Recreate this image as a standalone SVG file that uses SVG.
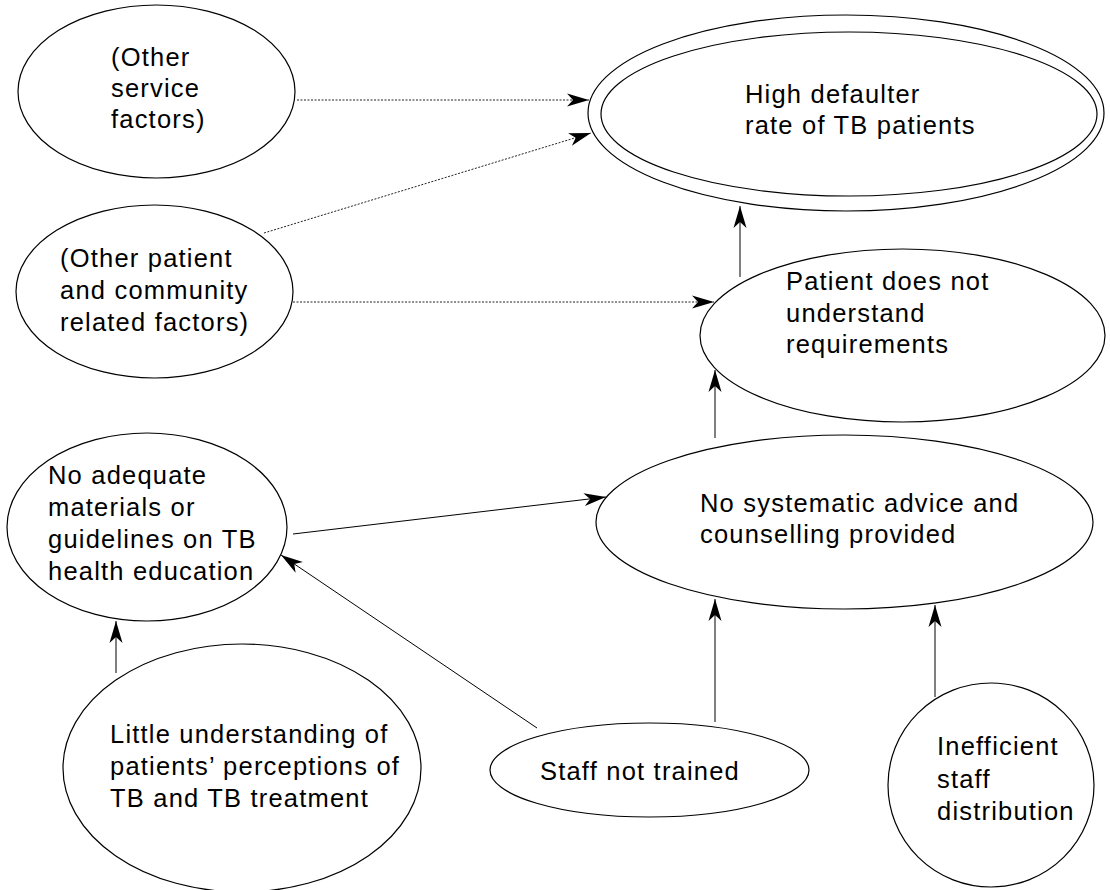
<svg xmlns="http://www.w3.org/2000/svg" width="1110" height="890" viewBox="0 0 1110 890">
<style>
.n{fill:#fff;stroke:#000;stroke-width:1.2}
.t{font-family:"Liberation Sans",Arial,sans-serif;font-size:25.5px;letter-spacing:1.2px;fill:#000}
.c{stroke:#000;stroke-width:1;fill:none}
.d{stroke:#222;stroke-width:1;fill:none;stroke-dasharray:2 1.5}
</style>
<defs>
<marker id="ah" viewBox="-23 -8 24 16" refX="0" refY="0" markerWidth="24" markerHeight="16" markerUnits="userSpaceOnUse" orient="auto">
<path d="M0,0 L-22,-6.5 L-16,0 L-22,6.5 Z" fill="#000"/>
</marker>
</defs>
<rect width="1110" height="890" fill="#fff"/>
<g id="connectors">
<line class="d" x1="297" y1="100" x2="589" y2="100" marker-end="url(#ah)"/>
<line class="d" x1="264" y1="233" x2="591" y2="133" marker-end="url(#ah)"/>
<line class="d" x1="293" y1="302" x2="714" y2="302" marker-end="url(#ah)"/>
<line class="c" x1="740" y1="277" x2="740" y2="206" marker-end="url(#ah)"/>
<line class="c" x1="715" y1="438" x2="715" y2="370" marker-end="url(#ah)"/>
<line class="c" x1="293" y1="534" x2="606" y2="497" marker-end="url(#ah)"/>
<line class="c" x1="537" y1="728" x2="281" y2="555" marker-end="url(#ah)"/>
<line class="c" x1="116" y1="673" x2="116" y2="621" marker-end="url(#ah)"/>
<line class="c" x1="715" y1="722" x2="715" y2="599" marker-end="url(#ah)"/>
<line class="c" x1="935" y1="697" x2="935" y2="605" marker-end="url(#ah)"/>
</g>
<g id="other-service">
<ellipse class="n" cx="156.5" cy="91.5" rx="138.5" ry="86.5"/>
<text class="t"><tspan x="111" y="66">(Other</tspan><tspan x="111" y="97">service</tspan><tspan x="111" y="128">factors)</tspan></text>
</g>
<g id="other-patient">
<ellipse class="n" cx="154.5" cy="291.5" rx="138.5" ry="86.5"/>
<text class="t"><tspan x="60" y="267">(Other patient</tspan><tspan x="60" y="299">and community</tspan><tspan x="60" y="331">related factors)</tspan></text>
</g>
<g id="high-defaulter">
<ellipse class="n" cx="846" cy="113" rx="258" ry="98"/>
<ellipse class="n" cx="849" cy="114" rx="248" ry="82"/>
<text class="t"><tspan x="745" y="103">High defaulter</tspan><tspan x="745" y="134">rate of TB patients</tspan></text>
</g>
<g id="patient-not-understand">
<ellipse class="n" cx="902.5" cy="335.5" rx="202.5" ry="86.5"/>
<text class="t"><tspan x="786" y="290">Patient does not</tspan><tspan x="786" y="322">understand</tspan><tspan x="786" y="353">requirements</tspan></text>
</g>
<g id="no-adequate">
<ellipse class="n" cx="147" cy="527" rx="140" ry="94"/>
<text class="t"><tspan x="48" y="484">No adequate</tspan><tspan x="48" y="516">materials or</tspan><tspan x="48" y="548">guidelines on TB</tspan><tspan x="48" y="580">health education</tspan></text>
</g>
<g id="no-systematic">
<ellipse class="n" cx="844.5" cy="522" rx="248.5" ry="87"/>
<text class="t"><tspan x="700" y="512">No systematic advice and</tspan><tspan x="700" y="543">counselling provided</tspan></text>
</g>
<g id="little-understanding">
<ellipse class="n" cx="242" cy="768" rx="179" ry="124"/>
<text class="t"><tspan x="110" y="743">Little understanding of</tspan><tspan x="110" y="775">patients’ perceptions of</tspan><tspan x="110" y="807">TB and TB treatment</tspan></text>
</g>
<g id="staff-not-trained">
<ellipse class="n" cx="649.5" cy="770" rx="159.5" ry="47"/>
<text class="t" x="540" y="780">Staff not trained</text>
</g>
<g id="inefficient-staff">
<ellipse class="n" cx="991" cy="785" rx="103" ry="102"/>
<text class="t"><tspan x="937" y="755">Inefficient</tspan><tspan x="937" y="788">staff</tspan><tspan x="937" y="820">distribution</tspan></text>
</g>
</svg>
